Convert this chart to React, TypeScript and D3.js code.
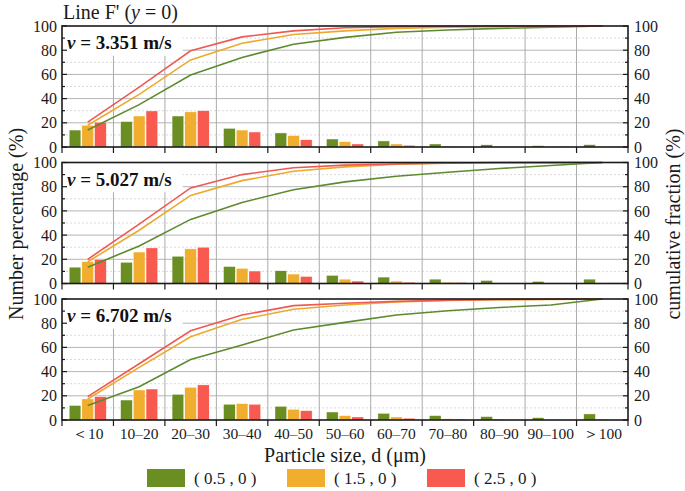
import React from "react";
import * as d3 from "d3";

const categories = ["＜10", "10–20", "20–30", "30–40", "40–50", "50–60", "60–70", "70–80", "80–90", "90–100", "＞100"];
const seriesLabels = ["( 0.5 , 0 )", "( 1.5 , 0 )", "( 2.5 , 0 )"];
const speeds = ["3.351", "5.027", "6.702"];
const yTicks = [0, 20, 40, 60, 80, 100];
const yMinor = [10, 30, 50, 70, 90];

// Panel 1: v = 3.351 m/s — number percentage (bars)
const bars1Green = [14, 21, 25.6, 15.4, 11.6, 6.6, 5, 2.5, 1.8, 1.1, 1.9];
const bars1Orange = [18, 25.6, 29, 14, 9.4, 4.4, 2.5, 0.6, 0.4, 0.3, 0.2];
const bars1Red = [20.5, 29.8, 30, 12.4, 6, 2.5, 1.4, 0.4, 0.3, 0.5, 0.4];
// Panel 1 cumulative fraction (lines)
const cum1Green = [14, 35, 59.5, 74, 84.9, 90.6, 94.8, 96.7, 98, 99, 100];
const cum1Orange = [18, 43.5, 72, 85.7, 93, 96, 98, 99, 99.5, 99.7, 100];
const cum1Red = [20.5, 49.5, 79.5, 91, 96, 98.5, 99.5, 99.8, 100, 100, 100];

// Panel 2: v = 5.027 m/s
const bars2Green = [13.5, 17.5, 22.5, 14, 10.5, 6.7, 5.3, 3.6, 2.5, 1.7, 3.6];
const bars2Orange = [18, 26, 28.6, 12.5, 7.8, 3.6, 2, 1, 0.5, 0.2, 0.5];
const bars2Red = [20, 29.4, 30, 10.3, 5.8, 2, 1, 0.8, 0.3, 0.2, 0.5];
const cum2Green = [13.5, 31, 53, 67, 77.5, 84, 88.6, 92, 95, 97.5, 100];
const cum2Orange = [18, 44, 72.8, 85, 92.8, 96.4, 98.5, 99.4, 99.8, 99.9, 100];
const cum2Red = [20, 49, 79, 90, 95.6, 97.8, 98.8, 99.6, 100, 100, 100];

// Panel 3: v = 6.702 m/s
const bars3Green = [12, 16.5, 21.2, 13, 11.3, 6.6, 5.5, 3.6, 2.8, 1.9, 5];
const bars3Orange = [17.4, 24.8, 27, 13.5, 8.8, 3.6, 2.5, 1, 0.8, 0.2, 0.8];
const bars3Red = [19.3, 25.6, 29, 13, 7.7, 2.5, 1.5, 0.8, 0.3, 0.2, 0.3];
const cum3Green = [12, 27.5, 50, 62, 74.4, 80.7, 86.8, 90.3, 93, 95, 100];
const cum3Orange = [17.4, 43.5, 68.8, 83.2, 91.5, 95, 97.5, 98.8, 99.4, 99.7, 100];
const cum3Red = [19.3, 46.5, 73.8, 86.8, 94.5, 96.5, 98, 99, 99.6, 99.8, 100];

const panels = [
  { speed: speeds[0], bars: [bars1Green, bars1Orange, bars1Red], cums: [cum1Green, cum1Orange, cum1Red] },
  { speed: speeds[1], bars: [bars2Green, bars2Orange, bars2Red], cums: [cum2Green, cum2Orange, cum2Red] },
  { speed: speeds[2], bars: [bars3Green, bars3Orange, bars3Red], cums: [cum3Green, cum3Orange, cum3Red] },
];

const barColors = ["#6B8E23", "#F0AD2E", "#F85A4F"];
const lineColors = ["#5E8A2E", "#EDA92C", "#EE5A52"];

const W = 685;
const H = 491;
const LEFT = 62;
const RIGHT = 628;
const PANEL_TOPS = [26, 162.5, 299];
const PANEL_H = 121;
const FONT = "'Liberation Serif', 'Times New Roman', Times, serif";

export default function App() {
  const x = d3.scaleBand<string>().domain(categories).range([LEFT, RIGHT]).padding(0);
  const bw = x.bandwidth();
  const xs = d3
    .scaleBand<string>()
    .domain(["0", "1", "2"])
    .range([0, bw])
    .paddingInner(0.08)
    .paddingOuter(0.565);
  const boundaries = d3.range(categories.length + 1).map((i) => LEFT + i * bw);

  return (
    <svg
      width={W}
      height={H}
      style={{ position: "absolute", left: 0, top: 0, background: "#fff" }}
      fontFamily={FONT}
    >
      <rect x={0} y={0} width={W} height={H} fill="#fff" />
      {/* Title */}
      <text x={63} y={19} fontSize={20} fill="#1a1a1a">
        Line F' (<tspan fontStyle="italic">y</tspan> = 0)
      </text>

      {panels.map((p, pi) => {
        const top = PANEL_TOPS[pi];
        const y = d3.scaleLinear().domain([0, 100]).range([top + PANEL_H, top]);
        const line = d3
          .line<number>()
          .x((_, i) => (x(categories[i]) as number) + bw / 2)
          .y((d) => y(d));
        return (
          <g key={pi}>
            {/* horizontal grid */}
            {yMinor.map((t) => (
              <line key={"m" + t} x1={LEFT} x2={RIGHT} y1={y(t)} y2={y(t)} stroke="#cfcfcf" strokeWidth={0.8} strokeDasharray="2,2" />
            ))}
            {[20, 40, 60, 80].map((t) => (
              <line key={"g" + t} x1={LEFT} x2={RIGHT} y1={y(t)} y2={y(t)} stroke="#b4b4b4" strokeWidth={1} />
            ))}
            {/* vertical grid */}
            {boundaries.slice(1, -1).map((bx, i) => (
              <line key={"v" + i} x1={bx} x2={bx} y1={top} y2={top + PANEL_H} stroke="#ababab" strokeWidth={1} />
            ))}
            {/* bars */}
            {p.bars.map((vals, si) =>
              vals.map((v, ci) => (
                <rect
                  key={"b" + si + "-" + ci}
                  x={(x(categories[ci]) as number) + (xs(String(si)) as number)}
                  y={y(v)}
                  width={xs.bandwidth()}
                  height={y(0) - y(v)}
                  fill={barColors[si]}
                  stroke="#ffffff"
                  strokeWidth={0.4}
                />
              ))
            )}
            {/* label box */}
            <rect x={LEFT + 0.75} y={top + 0.75} width={120} height={29} fill="#fff" />
            <text x={67} y={top + 23} fontSize={19} fontWeight="bold" fill="#111">
              <tspan fontStyle="italic">v</tspan> = {p.speed} m/s
            </text>
            {/* cumulative lines */}
            {p.cums.map((vals, si) => (
              <path key={"l" + si} d={line(vals) || ""} fill="none" stroke={lineColors[si]} strokeWidth={1.6} />
            ))}
            {/* frame */}
            <rect x={LEFT} y={top} width={RIGHT - LEFT} height={PANEL_H} fill="none" stroke="#1a1a1a" strokeWidth={1.6} />
            {/* left/right ticks */}
            {yTicks.map((t) => (
              <g key={"t" + t}>
                <line x1={LEFT} x2={LEFT + 5} y1={y(t)} y2={y(t)} stroke="#1a1a1a" strokeWidth={1.2} />
                <line x1={RIGHT} x2={RIGHT - 5} y1={y(t)} y2={y(t)} stroke="#1a1a1a" strokeWidth={1.2} />
                <text x={LEFT - 5} y={y(t)} dy="0.35em" textAnchor="end" fontSize={16} fill="#1a1a1a">
                  {t}
                </text>
                <text x={RIGHT + 6} y={y(t)} dy="0.35em" textAnchor="start" fontSize={16} fill="#1a1a1a">
                  {t}
                </text>
              </g>
            ))}
            {yMinor.map((t) => (
              <g key={"mt" + t}>
                <line x1={LEFT} x2={LEFT + 3} y1={y(t)} y2={y(t)} stroke="#1a1a1a" strokeWidth={1.2} />
                <line x1={RIGHT} x2={RIGHT - 3} y1={y(t)} y2={y(t)} stroke="#1a1a1a" strokeWidth={1.2} />
              </g>
            ))}
            {/* bottom ticks */}
            {boundaries.map((bx, i) => (
              <line key={"bt" + i} x1={bx} x2={bx} y1={top + PANEL_H} y2={top + PANEL_H + 6} stroke="#1a1a1a" strokeWidth={1.2} />
            ))}
          </g>
        );
      })}

      {/* x tick labels */}
      {categories.map((c) => (
        <text key={c} x={(x(c) as number) + bw / 2} y={439} textAnchor="middle" fontSize={15.5} fill="#1a1a1a">
          {c}
        </text>
      ))}

      {/* axis titles */}
      <text x={345} y={462} textAnchor="middle" fontSize={20} fill="#1a1a1a">
        Particle size, d (μm)
      </text>
      <text transform="translate(16,224) rotate(-90)" dy="0.35em" textAnchor="middle" fontSize={20} fill="#1a1a1a">
        Number percentage (%)
      </text>
      <text transform="translate(673,224) rotate(-90)" dy="0.35em" textAnchor="middle" fontSize={20} fill="#1a1a1a">
        cumulative fraction (%)
      </text>

      {/* legend */}
      {seriesLabels.map((s, i) => (
        <g key={s} transform={`translate(${147 + i * 140},469)`}>
          <rect x={0} y={0} width={38} height={18} fill={barColors[i]} />
          <text x={47} y={15} fontSize={17} fill="#1a1a1a">
            {s}
          </text>
        </g>
      ))}
    </svg>
  );
}
